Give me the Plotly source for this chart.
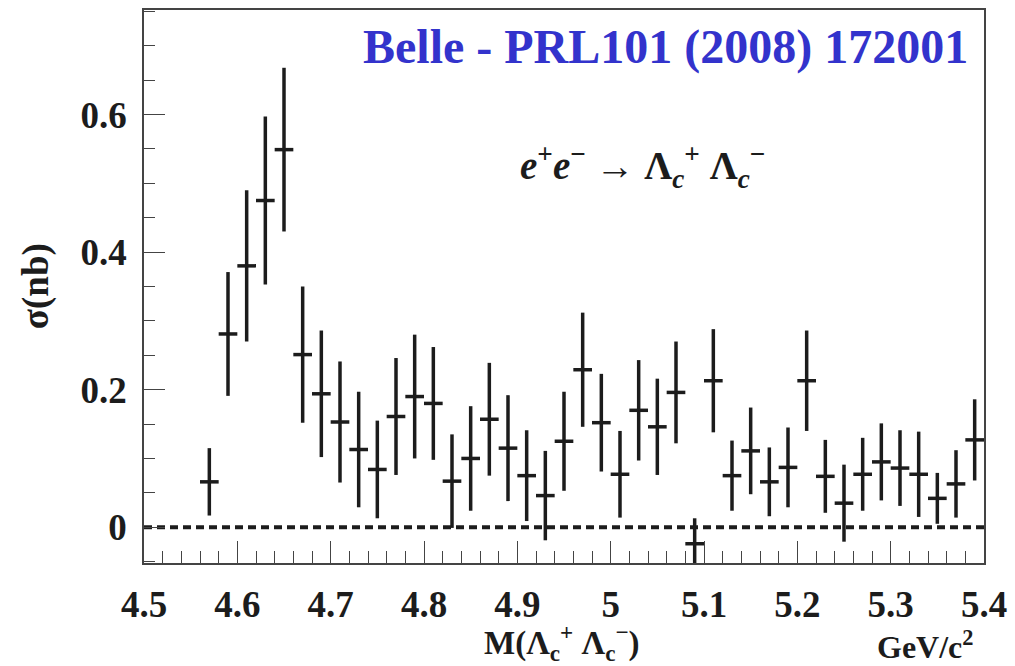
import plotly.graph_objects as go

# Bin centres (GeV/c^2)
mass = [4.57, 4.59, 4.61, 4.63, 4.65, 4.67, 4.69, 4.71, 4.73, 4.75,
        4.77, 4.79, 4.81, 4.83, 4.85, 4.87, 4.89, 4.91, 4.93, 4.95,
        4.97, 4.99, 5.01, 5.03, 5.05, 5.07, 5.09, 5.11, 5.13, 5.15,
        5.17, 5.19, 5.21, 5.23, 5.25, 5.27, 5.29, 5.31, 5.33, 5.35,
        5.37, 5.39]
# Cross section (nb)
sigma = [0.066, 0.281, 0.380, 0.475, 0.549, 0.251, 0.194, 0.153, 0.113, 0.084,
         0.161, 0.190, 0.180, 0.067, 0.100, 0.157, 0.115, 0.075, 0.046, 0.125,
         0.229, 0.152, 0.077, 0.170, 0.146, 0.196, -0.024, 0.213, 0.075, 0.111,
         0.066, 0.087, 0.213, 0.074, 0.035, 0.077, 0.095, 0.086, 0.077, 0.042,
         0.063, 0.127]
# Errors (nb)
sigma_err = [0.049, 0.090, 0.110, 0.122, 0.119, 0.099, 0.092, 0.088, 0.084, 0.071,
             0.085, 0.090, 0.082, 0.068, 0.076, 0.082, 0.077, 0.066, 0.065, 0.072,
             0.083, 0.071, 0.063, 0.073, 0.070, 0.074, 0.037, 0.075, 0.051, 0.063,
             0.050, 0.058, 0.073, 0.053, 0.056, 0.053, 0.056, 0.055, 0.062, 0.037,
             0.049, 0.059]
half_bin = [0.01] * len(mass)

x_ticks = [4.5, 4.6, 4.7, 4.8, 4.9, 5.0, 5.1, 5.2, 5.3, 5.4]
x_tick_text = ["4.5", "4.6", "4.7", "4.8", "4.9", "5", "5.1", "5.2", "5.3", "5.4"]
y_ticks = [0, 0.2, 0.4, 0.6]
y_tick_text = ["0", "0.2", "0.4", "0.6"]

INK = "#1c1c1c"
FONT = "Liberation Serif"

fig = go.Figure()
fig.add_trace(go.Scatter(
    x=mass, y=sigma, mode="markers",
    marker=dict(size=1, color=INK),
    error_y=dict(type="data", array=sigma_err, visible=True, thickness=3.5, width=0, color=INK),
    error_x=dict(type="data", array=half_bin, visible=True, thickness=3.5, width=0, color=INK),
    showlegend=False,
))

# dashed zero line
fig.add_shape(type="line", xref="x", yref="y", x0=4.5, x1=5.4, y0=0, y1=0,
              line=dict(color=INK, width=4, dash="8px,5px"), layer="below")

axis_common = dict(showgrid=False, zeroline=False, showline=True, linecolor="#444",
                   linewidth=1.5, mirror=True, ticks="inside", tickcolor="#444",
                   tickwidth=1.2)

fig.update_xaxes(range=[4.5, 5.4], tickvals=x_ticks, ticktext=x_tick_text,
                 ticklen=22, ticklabelstandoff=8,
                 tickfont=dict(family=FONT, size=37, color=INK, weight="bold"),
                 minor=dict(dtick=0.02, ticklen=12, ticks="inside", tickcolor="#444", tickwidth=1.2),
                 **axis_common)
fig.update_yaxes(range=[-0.052, 0.752], tickvals=y_ticks, ticktext=y_tick_text,
                 ticklen=21, ticklabelstandoff=8,
                 tickfont=dict(family=FONT, size=37, color=INK, weight="bold"),
                 minor=dict(dtick=0.05, tick0=0, ticklen=11, ticks="inside", tickcolor="#444", tickwidth=1.2),
                 **axis_common)

fig.add_annotation(xref="paper", yref="paper", x=0.983, y=0.933, xanchor="right", yanchor="middle",
                   text="<b>Belle - PRL101 (2008) 172001</b>", showarrow=False,
                   font=dict(family=FONT, size=48, color="#3333CC"))
fig.add_annotation(xref="paper", yref="paper", x=0.593, y=0.717, xanchor="center", yanchor="middle",
                   text="<b><i>e</i><sup>+</sup><i>e</i><sup>−</sup> → Λ<sub><i>c</i></sub><sup>+</sup> Λ<sub><i>c</i></sub><sup>−</sup></b>",
                   showarrow=False, font=dict(family=FONT, size=39, color=INK))
fig.add_annotation(xref="paper", yref="paper", x=-0.129, y=0.5, xanchor="center", yanchor="middle",
                   text="<b>σ(nb)</b>", textangle=-90, showarrow=False,
                   font=dict(family=FONT, size=37, color=INK))
fig.add_annotation(xref="paper", yref="paper", x=0.498, y=-0.143, xanchor="center", yanchor="middle",
                   text="<b>M(Λ<sub>c</sub><sup>+</sup> Λ<sub>c</sub><sup>−</sup>)</b>", showarrow=False,
                   font=dict(family=FONT, size=33, color=INK))
fig.add_annotation(xref="paper", yref="paper", x=0.99, y=-0.149, xanchor="right", yanchor="middle",
                   text="<b>GeV/c<sup>2</sup></b>", showarrow=False,
                   font=dict(family=FONT, size=32, color=INK))

fig.update_layout(width=1015, height=666, margin=dict(l=144, r=26, t=8, b=103),
                  paper_bgcolor="white", plot_bgcolor="white")

fig.write_html("out.html")
